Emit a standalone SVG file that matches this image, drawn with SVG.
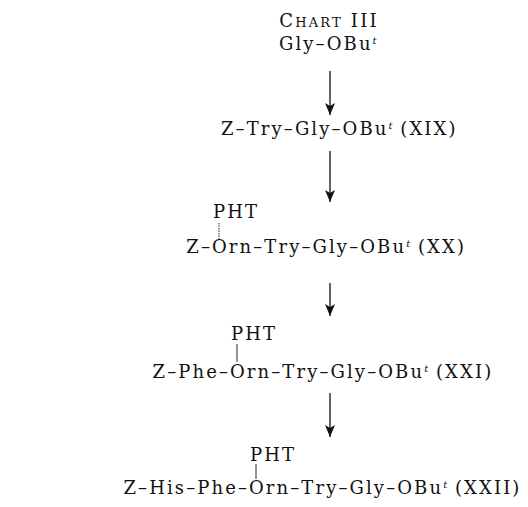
<svg xmlns="http://www.w3.org/2000/svg" width="528" height="507" viewBox="0 0 528 507">
<style>
text{font-family:"DejaVu Serif","Liberation Serif",serif;font-size:18px;fill:#111;letter-spacing:2.1px}
.sup{font-size:10px;font-style:italic;letter-spacing:0}
.end{text-anchor:end}
.mid{text-anchor:middle}
.conn line{stroke:#111;stroke-width:1.3}
.bond{stroke:#111;stroke-width:0.9}
</style>
<defs>
<marker id="ah" viewBox="0 0 12 10" refX="12" refY="5" markerWidth="12" markerHeight="10" markerUnits="userSpaceOnUse" orient="auto">
<path d="M0,0 L12,5 L0,10 L3,5 Z" fill="#111"/>
</marker>
</defs>
<rect width="528" height="507" fill="#fff"/>
<g id="title"><text x="329" y="27" class="mid" style="font-variant:small-caps;letter-spacing:2.2px">Chart III</text></g>
<g id="n0"><text x="279" y="50">Gly–OBu<tspan class="sup" dy="-6">t</tspan></text></g>
<g id="n1"><text x="221" y="135">Z–Try–Gly–OBu<tspan class="sup" dy="-6">t</tspan><tspan dy="6"> (XIX)</tspan></text></g>
<g id="n2">
<text x="213" y="218">PHT</text>
<line class="bond" x1="219" y1="223" x2="219" y2="240" stroke-dasharray="1.5,1"/>
<text x="212" y="253" class="end">Z–</text>
<text x="212" y="253">Orn–Try–Gly–OBu<tspan class="sup" dy="-6">t</tspan><tspan dy="6"> (XX)</tspan></text>
</g>
<g id="n3">
<text x="231" y="340">PHT</text>
<line class="bond" x1="237" y1="344" x2="237" y2="362"/>
<text x="230" y="378" class="end">Z–Phe–</text>
<text x="230" y="378">Orn–Try–Gly–OBu<tspan class="sup" dy="-6">t</tspan><tspan dy="6"> (XXI)</tspan></text>
</g>
<g id="n4">
<text x="250" y="461">PHT</text>
<line class="bond" x1="256" y1="464" x2="256" y2="479"/>
<text x="249" y="494" class="end">Z–His–Phe–</text>
<text x="249" y="494">Orn–Try–Gly–OBu<tspan class="sup" dy="-6">t</tspan><tspan dy="6"> (XXII)</tspan></text>
</g>
<g class="conn">
<line x1="330" y1="71" x2="330" y2="115" marker-end="url(#ah)"/>
<line x1="330" y1="151" x2="330" y2="202" marker-end="url(#ah)"/>
<line x1="330" y1="283" x2="330" y2="316" marker-end="url(#ah)"/>
<line x1="330" y1="393" x2="330" y2="437" marker-end="url(#ah)"/>
</g>
</svg>
